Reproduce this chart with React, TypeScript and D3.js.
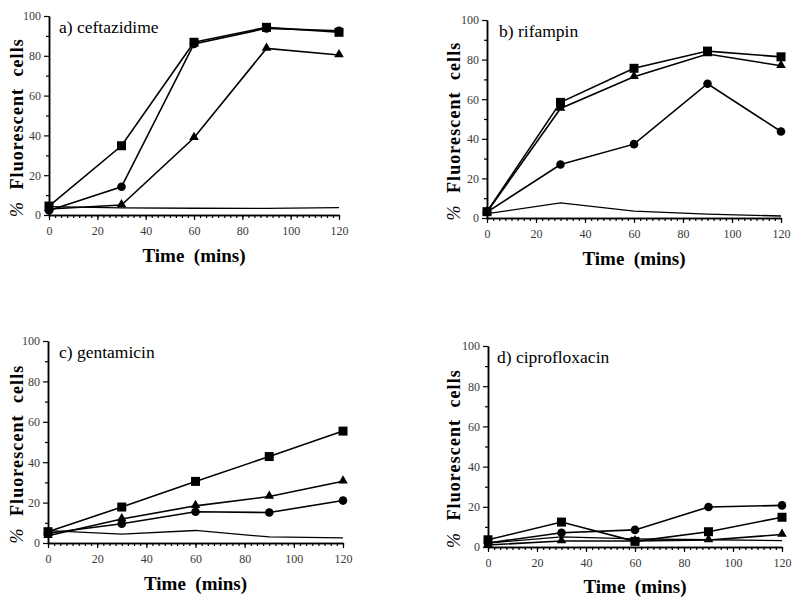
import React, { useEffect, useRef } from 'react';
import * as d3 from 'd3';

// sampling times (mins)
const times = [0, 30, 60, 90, 120];

// a) ceftazidime
const ceftSquare = [4.5, 34.8, 86.8, 94.3, 91.8];
const ceftCircle = [2.3, 14.2, 86.0, 93.8, 92.6];
const ceftTriangle = [3.0, 5.0, 38.8, 83.7, 80.4];
const ceftControl = [4.2, 3.6, 3.4, 3.3, 3.7];

// b) rifampin
const rifSquare = [3.2, 58.4, 75.6, 84.3, 81.4];
const rifCircle = [3.0, 27.0, 37.3, 67.8, 43.7];
const rifTriangle = [3.0, 55.3, 71.3, 82.8, 76.9];
const rifControl = [2.2, 7.6, 3.5, 2.0, 1.0];

// c) gentamicin
const gentSquare = [5.6, 17.8, 30.5, 42.8, 55.4];
const gentCircle = [4.8, 9.5, 15.5, 15.1, 21.0];
const gentTriangle = [3.6, 11.9, 18.4, 23.0, 30.6];
const gentControl = [6.1, 4.4, 6.2, 3.0, 2.5];

// d) ciprofloxacin
const ciproSquare = [3.6, 12.4, 2.8, 7.6, 14.8];
const ciproCircle = [2.0, 7.1, 8.5, 19.9, 20.7];
const ciproTriangle = [1.0, 3.0, 3.0, 3.5, 6.2];
const ciproControl = [2.0, 5.0, 4.0, 3.6, 3.2];

const majorY = [0, 20, 40, 60, 80, 100];
const majorX = [0, 20, 40, 60, 80, 100, 120];

const panels = [
  { title: 'a) ceftazidime', square: ceftSquare, circle: ceftCircle, triangle: ceftTriangle, control: ceftControl,
    left: 49, right: 339, top: 16, bottom: 215, titleX: 59, titleY: 33, yTitleX: 23, xTitleY: 262 },
  { title: 'b) rifampin', square: rifSquare, circle: rifCircle, triangle: rifTriangle, control: rifControl,
    left: 487, right: 781, top: 20, bottom: 218, titleX: 499, titleY: 37, yTitleX: 460, xTitleY: 265 },
  { title: 'c) gentamicin', square: gentSquare, circle: gentCircle, triangle: gentTriangle, control: gentControl,
    left: 48, right: 343, top: 341, bottom: 543, titleX: 59, titleY: 358, yTitleX: 23, xTitleY: 590 },
  { title: 'd) ciprofloxacin', square: ciproSquare, circle: ciproCircle, triangle: ciproTriangle, control: ciproControl,
    left: 488, right: 782, top: 346, bottom: 547, titleX: 497, titleY: 363, yTitleX: 460, xTitleY: 593 },
];

export default function App() {
  const svgRef = useRef<SVGSVGElement>(null);

  useEffect(() => {
    const svg = d3.select(svgRef.current);
    svg.selectAll('*').remove();

    panels.forEach((p) => {
      const x = d3.scaleLinear().domain([0, 120]).range([p.left, p.right]);
      const y = d3.scaleLinear().domain([0, 100]).range([p.bottom, p.top]);
      const g = svg.append('g');

      // minor ticks
      const yMinor = d3.axisLeft(y).tickValues(d3.range(10, 100, 20)).tickSize(3).tickSizeOuter(0).tickFormat(() => '');
      g.append('g').attr('transform', `translate(${p.left},0)`).call(yMinor);
      const xMinor = d3.axisBottom(x).tickValues(d3.range(0, 120.1, 2.5)).tickSize(3).tickSizeOuter(0).tickFormat(() => '');
      g.append('g').attr('transform', `translate(0,${p.bottom})`).call(xMinor);

      const yAxis = d3.axisLeft(y).tickValues(majorY).tickSize(5).tickSizeOuter(0).tickPadding(3);
      const ya = g.append('g').attr('transform', `translate(${p.left},0)`).call(yAxis);
      const xAxis = d3.axisBottom(x).tickValues(majorX).tickSize(5).tickSizeOuter(0);
      const xa = g.append('g').attr('transform', `translate(0,${p.bottom})`).call(xAxis);

      g.selectAll('.domain').attr('stroke', '#000').attr('stroke-width', 1.5);
      g.selectAll('.tick line').attr('stroke', '#000').attr('stroke-width', 1.2);
      g.selectAll('g').attr('font-family', null).attr('font-size', null);
      [ya, xa].forEach((a) => {
        a.selectAll('text').style('font-size', '12px').attr('fill', '#3a3a3a');
      });
      xa.selectAll('text').attr('y', 20).attr('dy', 0);

      // panel title
      g.append('text').attr('x', p.titleX).attr('y', p.titleY)
        .style('font-size', '17.5px').text(p.title);

      // axis titles
      g.append('text').attr('x', (p.left + p.right) / 2 + 0).attr('y', p.xTitleY)
        .attr('text-anchor', 'middle').style('font-size', '19px')
        .style('font-weight', 'bold').style('white-space', 'pre').text('Time  (mins)');

      const yt = g.append('text')
        .attr('transform', `translate(${p.yTitleX},${(p.top + p.bottom) / 2 + 12}) rotate(-90)`)
        .attr('text-anchor', 'middle').style('font-size', '18px')
        .style('letter-spacing', '1.1px')
        .style('font-weight', 'bold').style('white-space', 'pre');
      yt.append('tspan').style('font-style', 'italic').style('font-weight', 'normal').text('%');
      yt.append('tspan').text('  Fluorescent  cells');

      const line = d3.line<number>().x((_, i) => x(times[i])).y((d) => y(d));

      g.append('path').attr('d', line(p.control)).attr('fill', 'none')
        .attr('stroke', '#000').attr('stroke-width', 1.3);
      [p.triangle, p.circle, p.square].forEach((s) =>
        g.append('path').attr('d', line(s)).attr('fill', 'none')
          .attr('stroke', '#000').attr('stroke-width', 1.6)
      );

      const tri = d3.symbol().type(d3.symbolTriangle).size(40);
      g.selectAll(null).data(p.triangle).join('path')
        .attr('d', tri)
        .attr('transform', (d, i) => `translate(${x(times[i])},${y(d) - 0.5})`)
        .attr('fill', '#000');

      g.selectAll(null).data(p.circle).join('circle')
        .attr('cx', (_, i) => x(times[i])).attr('cy', (d) => y(d)).attr('r', 4.3)
        .attr('fill', '#000');

      g.selectAll(null).data(p.square).join('rect')
        .attr('x', (_, i) => x(times[i]) - 4.5).attr('y', (d) => y(d) - 4.5)
        .attr('width', 9).attr('height', 9).attr('fill', '#000');
    });
  }, []);

  return (
    <svg ref={svgRef} width={800} height={606}
      style={{ position: 'absolute', left: 0, top: 0, background: '#fff', fontFamily: "'Liberation Serif', 'Times New Roman', serif" }} />
  );
}
